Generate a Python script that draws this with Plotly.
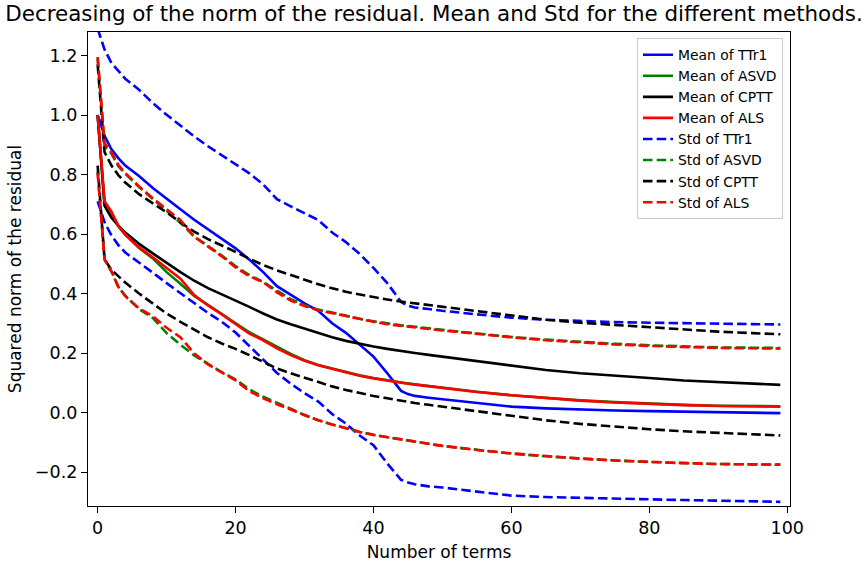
import plotly.graph_objects as go

# Number of terms at which values were read
terms = [0, 1, 2, 3, 4, 6, 8, 10, 12, 14, 16, 18, 20, 22, 24, 26, 28, 30, 32, 34, 36, 38,
         40, 42, 44, 45, 46, 48, 50, 55, 60, 65, 70, 75, 80, 85, 90, 95, 99]

mean_ttr1 = [1.0, 0.93, 0.885, 0.855, 0.83, 0.795, 0.755, 0.718, 0.683, 0.648, 0.615, 0.585,
             0.552, 0.514, 0.472, 0.425, 0.395, 0.367, 0.342, 0.30, 0.268, 0.228,
             0.188, 0.132, 0.073, 0.062, 0.056, 0.05, 0.045, 0.032, 0.02, 0.014, 0.01,
             0.007, 0.005, 0.003, 0.001, 0.0, -0.002]
std_ttr1 = [0.29, 0.29, 0.29, 0.292, 0.292, 0.29, 0.285, 0.283, 0.28, 0.28, 0.28, 0.28,
            0.283, 0.29, 0.295, 0.292, 0.298, 0.302, 0.305, 0.305, 0.305, 0.305,
            0.298, 0.303, 0.299, 0.297, 0.297, 0.298, 0.297, 0.298, 0.299, 0.298, 0.297,
            0.297, 0.297, 0.297, 0.297, 0.297, 0.298]

mean_asvd = [1.0, 0.705, 0.672, 0.625, 0.598, 0.553, 0.518, 0.472, 0.433, 0.392, 0.362, 0.332,
             0.302, 0.27, 0.246, 0.222, 0.197, 0.176, 0.16, 0.148, 0.136, 0.125,
             0.116, 0.108, 0.101, 0.098, 0.095, 0.089, 0.083, 0.07, 0.058, 0.049, 0.041,
             0.035, 0.03, 0.026, 0.023, 0.022, 0.021]
std_asvd = [0.19, 0.19, 0.198, 0.203, 0.205, 0.205, 0.2, 0.205, 0.205, 0.2, 0.198, 0.196,
            0.19, 0.192, 0.193, 0.188, 0.184, 0.185, 0.186, 0.188, 0.189, 0.19,
            0.191, 0.191, 0.192, 0.193, 0.193, 0.194, 0.195, 0.196, 0.196, 0.196, 0.196,
            0.196, 0.196, 0.196, 0.196, 0.196, 0.196]

mean_cptt = [1.0, 0.695, 0.655, 0.628, 0.605, 0.567, 0.535, 0.503, 0.472, 0.443, 0.418, 0.397,
             0.377, 0.355, 0.333, 0.313, 0.297, 0.282, 0.266, 0.253, 0.241, 0.231,
             0.222, 0.214, 0.206, 0.203, 0.2, 0.194, 0.188, 0.172, 0.157, 0.143, 0.132,
             0.123, 0.116, 0.108, 0.102, 0.097, 0.093]
std_cptt = [0.17, 0.18, 0.175, 0.17, 0.168, 0.167, 0.168, 0.17, 0.167, 0.165, 0.165, 0.165,
            0.163, 0.162, 0.163, 0.165, 0.165, 0.165, 0.165, 0.165, 0.165, 0.166,
            0.166, 0.166, 0.167, 0.167, 0.168, 0.168, 0.168, 0.168, 0.169, 0.169, 0.17,
            0.171, 0.172, 0.171, 0.17, 0.17, 0.17]

mean_als = [1.0, 0.71, 0.675, 0.628, 0.598, 0.555, 0.522, 0.485, 0.45, 0.395, 0.36, 0.33,
            0.298, 0.265, 0.243, 0.216, 0.193, 0.174, 0.159, 0.147, 0.135, 0.124,
            0.115, 0.107, 0.1, 0.097, 0.094, 0.088, 0.082, 0.069, 0.058, 0.048, 0.04,
            0.034, 0.029, 0.025, 0.022, 0.021, 0.02]
std_als = [0.195, 0.196, 0.2, 0.205, 0.207, 0.205, 0.198, 0.2, 0.197, 0.196, 0.198, 0.195,
           0.19, 0.193, 0.195, 0.188, 0.183, 0.184, 0.185, 0.187, 0.188, 0.189,
           0.19, 0.19, 0.191, 0.192, 0.192, 0.193, 0.194, 0.195, 0.195, 0.195, 0.195,
           0.195, 0.195, 0.195, 0.195, 0.195, 0.195]

methods = ["TTr1", "ASVD", "CPTT", "ALS"]
means = [mean_ttr1, mean_asvd, mean_cptt, mean_als]
stds = [std_ttr1, std_asvd, std_cptt, std_als]
colors = ["#0000ff", "#008000", "#000000", "#ff0000"]

x_ticks = [0, 20, 40, 60, 80, 100]
y_ticks = [-0.2, 0.0, 0.2, 0.4, 0.6, 0.8, 1.0, 1.2]

LW = 2.6
DASH = "9.5px,4.2px"

fig = go.Figure()
for name, m, c in zip(methods, means, colors):
    fig.add_trace(go.Scatter(x=terms, y=m, mode="lines", name=f"Mean of {name}",
                             line=dict(color=c, width=LW)))
for name, m, s, c in zip(methods, means, stds, colors):
    upper = [a + b for a, b in zip(m, s)]
    lower = [a - b for a, b in zip(m, s)]
    fig.add_trace(go.Scatter(x=terms, y=upper, mode="lines", name=f"Std of {name}",
                             legendgroup=f"std{name}",
                             line=dict(color=c, width=LW, dash=DASH)))
    fig.add_trace(go.Scatter(x=terms, y=lower, mode="lines", name=f"Std of {name}",
                             legendgroup=f"std{name}", showlegend=False,
                             line=dict(color=c, width=LW, dash=DASH)))

font = "DejaVu Sans"
fig.update_layout(
    width=868, height=563,
    margin=dict(l=88, r=78, t=32, b=57, autoexpand=False),
    paper_bgcolor="white", plot_bgcolor="white",
    font=dict(family=font, size=17.5, color="black"),
    title=dict(text="Decreasing of the norm of the residual. Mean and Std for the different methods.",
               x=0.5, xref="container", xanchor="center",
               y=1 - 13.5 / 563, yref="container", yanchor="middle",
               font=dict(family=font, size=21.4, color="black")),
    legend=dict(x=0.99, y=0.987, xanchor="right", yanchor="top",
                bgcolor="rgba(255,255,255,0.8)", bordercolor="#cccccc", borderwidth=1,
                font=dict(family=font, size=13.9), tracegroupgap=0),
    showlegend=True,
)
fig.update_xaxes(range=[-1.4, 100.4], tickvals=x_ticks, ticktext=[str(v) for v in x_ticks],
                 showgrid=False, zeroline=False, showline=True, mirror=True, automargin=False,
                 linecolor="black", linewidth=1.3, ticks="outside", ticklen=6,
                 tickwidth=1.3, tickcolor="black", tickfont=dict(size=17.5),
                 title=dict(text="Number of terms", standoff=8, font=dict(size=17)))
fig.update_yaxes(range=[-0.314, 1.279], tickvals=y_ticks, tickformat=".1f",
                 showgrid=False, zeroline=False, showline=True, mirror=True, automargin=False,
                 linecolor="black", linewidth=1.3, ticks="outside", ticklen=6,
                 tickwidth=1.3, tickcolor="black", tickfont=dict(size=17.5),
                 title=dict(text="Squared norm of the residual", standoff=8, font=dict(size=17)))

fig.write_html("out.html", config={"displayModeBar": False},
               post_script="document.body.style.margin='0';")
